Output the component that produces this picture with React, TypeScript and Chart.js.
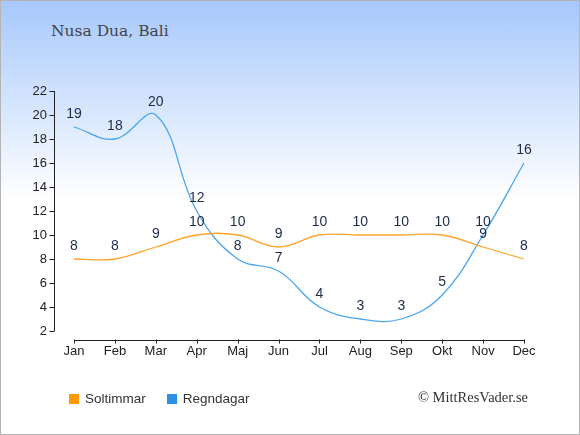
import { useEffect, useRef } from "react"
import { Chart, registerables } from "chart.js"

Chart.register(...registerables)

const months = ["Jan", "Feb", "Mar", "Apr", "Maj", "Jun", "Jul", "Aug", "Sep", "Okt", "Nov", "Dec"]
const soltimmar = [8, 8, 9, 10, 10, 9, 10, 10, 10, 10, 9, 8]
const regndagar = [19, 18, 20, 12, 8, 7, 4, 3, 3, 5, 10, 16]
const yTicks = [2, 4, 6, 8, 10, 12, 14, 16, 18, 20, 22]

const SANS = "'Liberation Sans', Arial, sans-serif"

// axis lines drawn apart from the plot area, like the original
const axesPlugin = {
  id: "looseAxes",
  afterDraw(chart: Chart) {
    const { ctx, chartArea } = chart
    const x = chart.scales.x
    const y = chart.scales.y
    const ax = chartArea.left - 20
    const ay = chartArea.bottom + 9.5
    ctx.save()
    ctx.strokeStyle = "#222"
    ctx.lineWidth = 1
    ctx.beginPath()
    ctx.moveTo(ax + 0.5, y.getPixelForValue(22))
    ctx.lineTo(ax + 0.5, y.getPixelForValue(2))
    yTicks.forEach((v) => {
      const py = Math.round(y.getPixelForValue(v)) + 0.5
      ctx.moveTo(ax - 4.5, py)
      ctx.lineTo(ax + 0.5, py)
    })
    ctx.moveTo(x.getPixelForValue(0), ay)
    ctx.lineTo(x.getPixelForValue(months.length - 1), ay)
    months.forEach((_, i) => {
      const px = Math.round(x.getPixelForValue(i)) + 0.5
      ctx.moveTo(px, ay - 1)
      ctx.lineTo(px, ay + 3)
    })
    ctx.stroke()
    ctx.restore()
  },
}

const valueLabels = {
  id: "valueLabels",
  afterDatasetsDraw(chart: Chart) {
    const { ctx } = chart
    ctx.save()
    ctx.font = `14px ${SANS}`
    ctx.fillStyle = "#1c2b4a"
    ctx.textAlign = "center"
    ctx.textBaseline = "middle"
    chart.data.datasets.forEach((ds, i) => {
      const meta = chart.getDatasetMeta(i)
      meta.data.forEach((pt, j) => {
        ctx.fillText(String(ds.data[j]), pt.x, pt.y - 13)
      })
    })
    ctx.restore()
  },
}

function MittResChart() {
  const chartRef = useRef<HTMLCanvasElement>(null)
  const chartInstance = useRef<Chart | null>(null)

  useEffect(() => {
    if (!chartRef.current) return
    if (chartInstance.current) chartInstance.current.destroy()

    chartInstance.current = new Chart(chartRef.current, {
      type: "line",
      data: {
        labels: months,
        datasets: [
          {
            label: "Soltimmar",
            data: soltimmar,
            borderColor: "#ffa42a",
            borderWidth: 1.3,
            pointRadius: 0,
            tension: 0.4,
            fill: false,
          },
          {
            label: "Regndagar",
            data: regndagar,
            borderColor: "#4aa5f0",
            borderWidth: 1.3,
            pointRadius: 0,
            tension: 0.4,
            fill: false,
          },
        ],
      },
      options: {
        responsive: false,
        animation: false,
        layout: { padding: { left: 14, right: 56, top: 91, bottom: 64 } },
        scales: {
          x: {
            offset: false,
            grid: { display: false, drawTicks: false },
            border: { display: false },
            ticks: { color: "#222", font: { family: SANS, size: 13 }, padding: 13, maxRotation: 0 },
            afterFit: (s: any) => {
              s.height = 40
            },
          },
          y: {
            min: 2,
            max: 22,
            grid: { display: false, drawTicks: false },
            border: { display: false },
            ticks: { stepSize: 2, color: "#222", font: { family: SANS, size: 13 }, padding: 27 },
            afterFit: (s: any) => {
              s.width = 60
            },
          },
        },
        plugins: {
          legend: { display: false },
          tooltip: { enabled: false },
        },
      },
      plugins: [axesPlugin, valueLabels],
    })

    return () => {
      if (chartInstance.current) {
        chartInstance.current.destroy()
        chartInstance.current = null
      }
    }
  }, [])

  return <canvas ref={chartRef} width={580} height={435} style={{ position: "absolute", left: 0, top: 0 }} />
}

export default function App() {
  const legendItem = (color: string, text: string) => (
    <span style={{ display: "inline-flex", alignItems: "center", marginRight: 21 }}>
      <span style={{ width: 10, height: 10, background: color, display: "inline-block", marginRight: 6 }} />
      {text}
    </span>
  )
  return (
    <div
      style={{
        position: "fixed",
        left: 0,
        top: 0,
        width: 580,
        height: 435,
        background: "linear-gradient(to bottom, #a6c8fc 0px, #ffffff 200px, #ffffff 435px)",
        overflow: "hidden",
      }}
    >
      <div
        style={{
          position: "absolute",
          left: 51,
          top: 22,
          fontFamily: "'DejaVu Serif', serif",
          fontSize: 15.5,
          color: "#444",
        }}
      >
        Nusa Dua, Bali
      </div>
      <MittResChart />
      <div
        style={{
          position: "absolute",
          left: 69,
          top: 391,
          fontFamily: SANS,
          fontSize: 13.5,
          color: "#333",
          display: "flex",
        }}
      >
        {legendItem("#ff9900", "Soltimmar")}
        {legendItem("#2d8fe5", "Regndagar")}
      </div>
      <div
        style={{
          position: "absolute",
          right: 52,
          top: 389,
          fontFamily: "'Liberation Serif', serif",
          fontSize: 14.5,
          color: "#333",
        }}
      >
        © MittResVader.se
      </div>
      <div
        style={{
          position: "absolute",
          inset: 0,
          border: "1px solid #b4b4b4",
          pointerEvents: "none",
        }}
      />
    </div>
  )
}
